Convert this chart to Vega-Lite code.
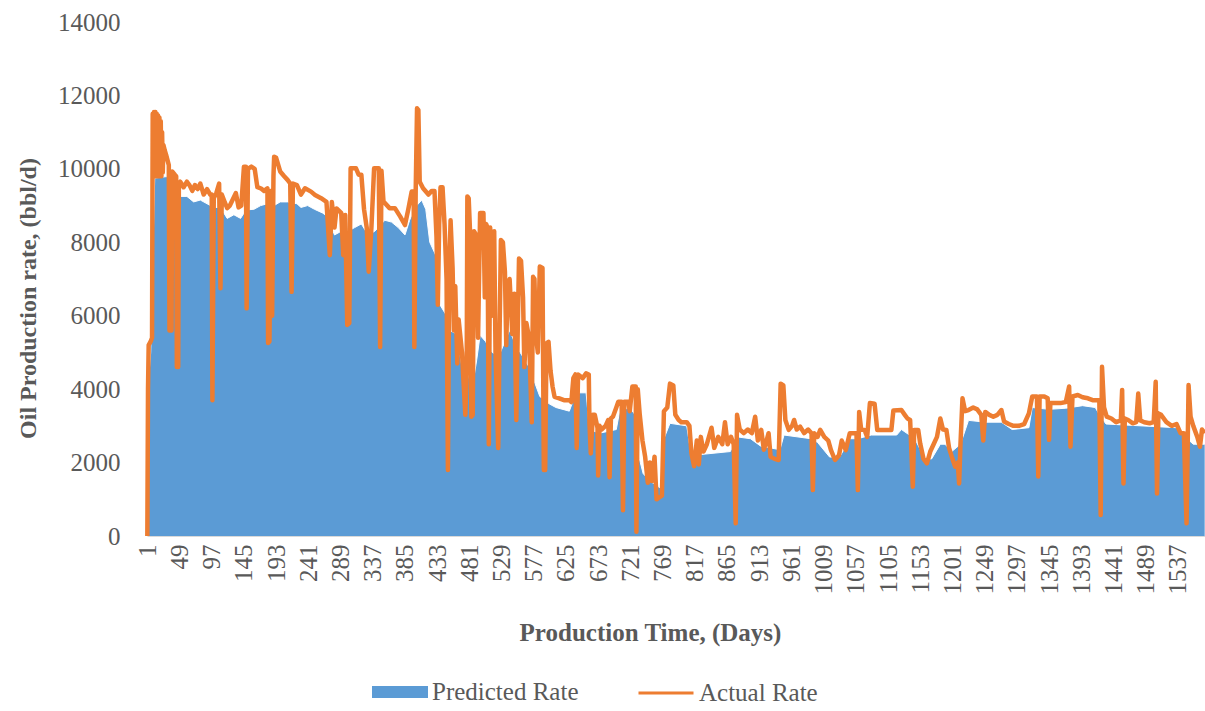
{
"$schema": "https://vega.github.io/schema/vega-lite/v6.json",
"width": 1058, "height": 514,
"autosize": {"type": "none"},
"padding": {"left": 147, "top": 22, "right": 0, "bottom": 175},
"background": "white",
"config": {"view": {"stroke": null}, "font": "Liberation Serif", "axis": {"labelOverlap": false}},
"datasets": {
"actual": [
{"d":1,"v":0},{"d":2,"v":4000},{"d":3,"v":5200},{"d":6,"v":5300},{"d":8,"v":5400},{"d":9,"v":11500},{"d":10,"v":9800},{"d":11,"v":11550},{"d":12,"v":9800},{"d":13,"v":11550},{"d":14,"v":9800},{"d":15,"v":11500},{"d":16,"v":9800},{"d":17,"v":11450},{"d":18,"v":9800},{"d":19,"v":11400},{"d":20,"v":9800},{"d":21,"v":11300},{"d":22,"v":9800},{"d":23,"v":11000},{"d":24,"v":9900},{"d":25,"v":10650},{"d":27,"v":10500},{"d":29,"v":10380},{"d":33,"v":10100},{"d":34,"v":5600},{"d":37,"v":5600},{"d":38,"v":9930},{"d":42,"v":9840},{"d":44,"v":9800},{"d":45,"v":4600},{"d":47,"v":4600},{"d":48,"v":9600},
{"d":50,"v":9650},{"d":55,"v":9500},{"d":60,"v":9650},{"d":64,"v":9550},{"d":68,"v":9400},{"d":72,"v":9560},{"d":76,"v":9450},{"d":80,"v":9600},{"d":85,"v":9300},{"d":90,"v":9450},{"d":95,"v":9290},{"d":97,"v":9300},{"d":98,"v":3700},{"d":100,"v":9200},{"d":104,"v":9350},{"d":108,"v":9600},{"d":110,"v":6750},{"d":112,"v":9300},{"d":116,"v":9110},{"d":120,"v":8930},{"d":124,"v":9000},{"d":133,"v":9340},{"d":137,"v":8950},{"d":141,"v":9000},{"d":145,"v":10060},{"d":148,"v":10060},{"d":149,"v":6200},{"d":151,"v":10000},{"d":156,"v":10060},{"d":161,"v":10000},{"d":165,"v":9500},{"d":170,"v":9470},{"d":175,"v":9400},{"d":180,"v":9470},{"d":181,"v":5260},{"d":183,"v":5300},{"d":185,"v":9400},{"d":187,"v":6000},{"d":189,"v":9800},{"d":190,"v":10330},{"d":193,"v":10300},{"d":199,"v":9930},{"d":205,"v":9800},{"d":210,"v":9700},{"d":214,"v":9600},{"d":216,"v":6650},{"d":218,"v":9600},{"d":224,"v":9560},
{"d":230,"v":9300},{"d":236,"v":9470},{"d":245,"v":9380},{"d":251,"v":9290},{"d":260,"v":9200},{"d":268,"v":9100},{"d":273,"v":7650},{"d":276,"v":9100},{"d":280,"v":8400},{"d":283,"v":8920},{"d":290,"v":8800},{"d":293,"v":7650},{"d":296,"v":8740},{"d":299,"v":5750},{"d":302,"v":5800},{"d":304,"v":10015},{"d":312,"v":10015},{"d":316,"v":9840},{"d":320,"v":9840},{"d":324,"v":8900},{"d":328,"v":8400},{"d":331,"v":7200},{"d":335,"v":8400},{"d":339,"v":10015},{"d":346,"v":10015},{"d":348,"v":5150},{"d":350,"v":9950},{"d":353,"v":9110},{"d":362,"v":8930},{"d":370,"v":8930},{"d":378,"v":8700},{"d":385,"v":8470},{"d":390,"v":8900},{"d":395,"v":9380},{"d":398,"v":9380},{"d":399,"v":5150},{"d":401,"v":9400},{"d":403,"v":11650},{"d":405,"v":11600},{"d":407,"v":9650},{"d":412,"v":9470},{"d":420,"v":9300},{"d":425,"v":9400},{"d":429,"v":9400},{"d":432,"v":8150},{"d":434,"v":6300},{"d":436,"v":8500},{"d":438,"v":9500},{"d":441,"v":9500},{"d":444,"v":8500},{"d":447,"v":7000},{"d":449,"v":1800},
{"d":451,"v":7200},{"d":453,"v":8600},{"d":456,"v":7300},{"d":458,"v":5600},{"d":460,"v":6800},{"d":463,"v":4700},{"d":465,"v":5900},{"d":470,"v":5000},{"d":472,"v":4300},{"d":475,"v":3300},{"d":477,"v":4500},{"d":478,"v":9250},{"d":480,"v":9200},{"d":482,"v":8300},{"d":484,"v":3250},{"d":486,"v":3300},{"d":488,"v":8300},{"d":491,"v":8200},{"d":494,"v":5400},{"d":497,"v":8800},{"d":502,"v":8800},{"d":504,"v":6500},{"d":506,"v":8500},{"d":508,"v":8400},{"d":510,"v":2500},{"d":512,"v":8400},{"d":515,"v":6000},{"d":518,"v":8300},{"d":520,"v":5000},{"d":524,"v":2400},{"d":526,"v":5500},{"d":528,"v":8060},{"d":531,"v":8000},{"d":534,"v":7200},{"d":536,"v":5200},{"d":538,"v":6800},{"d":541,"v":7000},{"d":545,"v":5500},{"d":548,"v":6600},{"d":551,"v":3160},{"d":553,"v":5500},{"d":555,"v":7560},{"d":558,"v":7500},{"d":561,"v":6500},{"d":563,"v":4600},{"d":566,"v":5800},{"d":570,"v":5400},{"d":574,"v":3100},{"d":576,"v":7060},{"d":578,"v":7000},{"d":580,"v":5500},{"d":583,"v":5000},{"d":586,"v":7340},{"d":590,"v":7300},{"d":592,"v":1800},{"d":594,"v":1800},{"d":596,"v":5250},{"d":599,"v":5290},{"d":602,"v":4500},{"d":605,"v":4070},{"d":608,"v":3790},
{"d":615,"v":3750},{"d":622,"v":3700},{"d":630,"v":3700},{"d":633,"v":3650},{"d":636,"v":4300},{"d":639,"v":4400},{"d":641,"v":2400},{"d":643,"v":4400},{"d":650,"v":4300},{"d":655,"v":4430},{"d":659,"v":4400},{"d":660,"v":3070},{"d":662,"v":2250},{"d":665,"v":3300},{"d":668,"v":3300},{"d":672,"v":2950},{"d":673,"v":1650},{"d":675,"v":3000},{"d":678,"v":2900},{"d":684,"v":3000},{"d":688,"v":3160},{"d":690,"v":1600},{"d":692,"v":3200},{"d":695,"v":3250},{"d":700,"v":3500},{"d":703,"v":3660},{"d":708,"v":3660},{"d":710,"v":700},{"d":712,"v":3660},{"d":718,"v":3660},{"d":720,"v":3400},{"d":724,"v":4070},{"d":729,"v":4070},{"d":730,"v":115},{"d":732,"v":4000},{"d":735,"v":3300},{"d":739,"v":2600},{"d":743,"v":2160},{"d":747,"v":1450},{"d":750,"v":2000},{"d":753,"v":1500},{"d":757,"v":2160},{"d":760,"v":1000},{"d":764,"v":1050},{"d":768,"v":1100},{"d":771,"v":3400},{"d":776,"v":3500},{"d":780,"v":4150},{"d":785,"v":4100},{"d":788,"v":3300},{"d":793,"v":3160},{"d":797,"v":3100},{"d":805,"v":3100},{"d":809,"v":3000},
{"d":812,"v":2250},{"d":816,"v":1900},{"d":820,"v":2600},{"d":823,"v":1950},{"d":826,"v":2700},{"d":830,"v":2300},{"d":835,"v":2500},{"d":842,"v":2950},{"d":846,"v":2400},{"d":852,"v":2700},{"d":858,"v":2500},{"d":862,"v":3100},{"d":866,"v":2500},{"d":871,"v":2700},{"d":875,"v":2500},{"d":878,"v":345},{"d":880,"v":3300},{"d":884,"v":2900},{"d":890,"v":2800},{"d":896,"v":2900},{"d":902,"v":2800},{"d":907,"v":3250},{"d":911,"v":2600},{"d":916,"v":2890},{"d":920,"v":2350},{"d":924,"v":2600},{"d":927,"v":2800},{"d":930,"v":2160},{"d":936,"v":2100},{"d":942,"v":2070},{"d":945,"v":4150},{"d":949,"v":4100},{"d":952,"v":3160},{"d":957,"v":2890},{"d":962,"v":3000},{"d":965,"v":3160},{"d":969,"v":2900},{"d":974,"v":2980},{"d":980,"v":2800},{"d":986,"v":2900},{"d":991,"v":2800},{"d":993,"v":1250},{"d":995,"v":2800},{"d":1000,"v":2700},{"d":1004,"v":2890},{"d":1010,"v":2700},{"d":1016,"v":2600},{"d":1020,"v":2340},{"d":1026,"v":2070},{"d":1032,"v":2200},{"d":1036,"v":2600},{"d":1042,"v":2340},{"d":1048,"v":2800},{"d":1058,"v":2800},{"d":1060,"v":1250},{"d":1062,"v":3380},{"d":1065,"v":2900},{"d":1070,"v":2890},{"d":1074,"v":2700},{"d":1078,"v":3620},{"d":1085,"v":3600},{"d":1089,"v":2890},{"d":1100,"v":2890},{"d":1110,"v":2890},{"d":1113,"v":3420},
{"d":1125,"v":3430},{"d":1130,"v":3300},{"d":1134,"v":3200},{"d":1138,"v":3160},{"d":1142,"v":1340},{"d":1144,"v":2890},{"d":1150,"v":2890},{"d":1153,"v":2520},{"d":1158,"v":2100},{"d":1163,"v":1980},{"d":1168,"v":2300},{"d":1173,"v":2500},{"d":1178,"v":2700},{"d":1183,"v":3200},{"d":1187,"v":2900},{"d":1192,"v":2890},{"d":1196,"v":2400},{"d":1200,"v":2160},{"d":1205,"v":1890},{"d":1209,"v":2000},{"d":1211,"v":1430},{"d":1213,"v":2500},{"d":1216,"v":3750},{"d":1220,"v":3400},{"d":1225,"v":3430},{"d":1232,"v":3500},{"d":1238,"v":3450},{"d":1244,"v":3300},{"d":1247,"v":2600},{"d":1250,"v":3380},{"d":1256,"v":3300},{"d":1262,"v":3250},{"d":1268,"v":3300},{"d":1274,"v":3430},{"d":1278,"v":3120},{"d":1285,"v":3050},{"d":1292,"v":3000},{"d":1300,"v":3000},{"d":1308,"v":3050},{"d":1315,"v":3340},{"d":1320,"v":3800},{"d":1327,"v":3800},{"d":1329,"v":1620},{"d":1331,"v":3800},{"d":1338,"v":3800},{"d":1343,"v":3750},{"d":1345,"v":2620},{"d":1347,"v":3620},{"d":1355,"v":3620},{"d":1362,"v":3620},{"d":1370,"v":3650},{"d":1375,"v":4070},{"d":1377,"v":2430},{"d":1380,"v":3800},{"d":1388,"v":3840},{"d":1395,"v":3780},{"d":1403,"v":3750},{"d":1410,"v":3700},{"d":1420,"v":3700},{"d":1422,"v":570},{"d":1424,"v":4610},{"d":1427,"v":3500},
{"d":1431,"v":3250},{"d":1438,"v":3200},{"d":1445,"v":3100},{"d":1452,"v":3150},{"d":1454,"v":3980},{"d":1456,"v":1430},{"d":1458,"v":3200},{"d":1463,"v":3160},{"d":1470,"v":3070},{"d":1475,"v":3100},{"d":1478,"v":3880},{"d":1481,"v":3150},{"d":1487,"v":3100},{"d":1495,"v":3070},{"d":1501,"v":3100},{"d":1504,"v":4200},{"d":1506,"v":1160},{"d":1508,"v":3340},{"d":1512,"v":3300},{"d":1520,"v":3100},{"d":1528,"v":3000},{"d":1535,"v":3050},{"d":1541,"v":2800},{"d":1546,"v":2800},{"d":1550,"v":345},{"d":1553,"v":4110},{"d":1556,"v":3250},{"d":1560,"v":3000},{"d":1566,"v":2700},{"d":1570,"v":2430},{"d":1573,"v":2900},{"d":1577,"v":2800}
],
"predicted": [
{"d":1,"v":0},{"d":3,"v":4300},{"d":6,"v":5000},{"d":9,"v":7500},{"d":12,"v":9750},{"d":30,"v":9790},{"d":33,"v":9700},{"d":38,"v":9500},{"d":44,"v":9350},{"d":48,"v":9250},{"d":60,"v":9250},{"d":70,"v":9100},{"d":80,"v":9150},{"d":90,"v":9050},{"d":100,"v":8950},{"d":110,"v":8950},{"d":120,"v":8650},{"d":130,"v":8750},{"d":140,"v":8650},{"d":148,"v":8880},{"d":160,"v":8900},{"d":170,"v":9000},{"d":180,"v":9050},{"d":190,"v":9000},{"d":199,"v":9100},{"d":210,"v":9100},{"d":224,"v":9050},{"d":230,"v":8950},{"d":240,"v":9000},{"d":250,"v":8900},{"d":262,"v":8800},{"d":270,"v":8700},{"d":280,"v":8200},{"d":290,"v":8300},{"d":300,"v":8300},{"d":310,"v":8400},{"d":320,"v":8500},{"d":330,"v":8200},{"d":340,"v":8300},{"d":355,"v":8600},{"d":365,"v":8550},{"d":375,"v":8400},{"d":385,"v":8200},{"d":392,"v":8600},{"d":400,"v":8950},{"d":410,"v":9150},{"d":416,"v":8900},{"d":422,"v":8000},{"d":432,"v":7600},{"d":437,"v":6300},{"d":447,"v":6000},{"d":452,"v":5600},{"d":462,"v":5500},{"d":470,"v":4600},{"d":478,"v":4500},{"d":485,"v":4000},{"d":492,"v":4800},{"d":497,"v":5470},{"d":505,"v":5300},{"d":515,"v":5000},{"d":525,"v":4900},{"d":541,"v":5600},{"d":550,"v":5200},{"d":560,"v":4900},{"d":570,"v":4600},{"d":586,"v":3800},{"d":600,"v":3600},{"d":610,"v":3500},{"d":630,"v":3400},{"d":640,"v":3900},{"d":655,"v":3900},{"d":660,"v":2900},{"d":675,"v":2800},{"d":700,"v":2900},{"d":705,"v":3400},{"d":720,"v":3500},{"d":728,"v":3300},{"d":733,"v":2200},{"d":740,"v":1700},{"d":750,"v":1500},{"d":766,"v":1300},{"d":770,"v":2600},{"d":780,"v":3070},{"d":805,"v":3000},{"d":810,"v":2400},{"d":815,"v":2200},{"d":870,"v":2300},{"d":880,"v":2700},{"d":900,"v":2650},{"d":915,"v":2450},{"d":944,"v":2350},{"d":950,"v":2750},{"d":990,"v":2650},{"d":1000,"v":2550},{"d":1018,"v":2150},{"d":1033,"v":2150},{"d":1048,"v":2650},{"d":1060,"v":2650},{"d":1080,"v":2750},{"d":1118,"v":2750},{"d":1125,"v":2900},{"d":1145,"v":2650},{"d":1160,"v":2100},{"d":1170,"v":2100},{"d":1183,"v":2500},{"d":1190,"v":2500},{"d":1200,"v":2300},{"d":1213,"v":2500},{"d":1225,"v":3150},{"d":1250,"v":3100},{"d":1274,"v":3100},{"d":1290,"v":2900},{"d":1315,"v":2950},{"d":1320,"v":3500},{"d":1345,"v":3450},{"d":1370,"v":3480},{"d":1395,"v":3550},{"d":1414,"v":3500},{"d":1420,"v":3300},{"d":1430,"v":3050},{"d":1535,"v":2950},{"d":1545,"v":2750},{"d":1560,"v":2500},{"d":1577,"v":2500}
]
},
"encoding": {
"x": {"field": "d", "type": "quantitative", "scale": {"domain": [0.5, 1577.5], "nice": false, "zero": false},
"axis": {"values": [1,49,97,145,193,241,289,337,385,433,481,529,577,625,673,721,769,817,865,913,961,1009,1057,1105,1153,1201,1249,1297,1345,1393,1441,1489,1537],
"format": "d", "labelAngle": -90, "labelFont": "Liberation Serif", "labelFontSize": 25, "labelColor": "#595959", "labelPadding": 8, "labelFlush": false, "labelOverlap": false, "labelBound": false,
"ticks": false, "tickSize": 0, "grid": false, "domain": true, "domainColor": "#d9d9d9", "domainWidth": 1,
"title": "Production Time, (Days)", "titleFont": "Liberation Serif", "titleFontSize": 25, "titleFontWeight": "bold", "titleColor": "#595959",
"titleX": 503, "titleY": 96, "titleAlign": "center", "titleBaseline": "middle"}},
"y": {"field": "v", "type": "quantitative", "scale": {"domain": [0, 14000], "nice": false},
"axis": {"values": [0,2000,4000,6000,8000,10000,12000,14000], "format": "d", "labelFont": "Liberation Serif", "labelFontSize": 25, "labelColor": "#595959", "labelPadding": 27,
"ticks": false, "tickSize": 0, "grid": false, "domain": false,
"title": "Oil Production rate, (bbl/d)", "titleFont": "Liberation Serif", "titleFontSize": 24, "titleFontWeight": "bold", "titleColor": "#595959",
"titleX": -119, "titleY": 276, "titleAngle": -90, "titleAlign": "center", "titleBaseline": "middle"}}
},
"layer": [
{
"data": {"name": "predicted"},
"mark": {"type": "area", "interpolate": "linear", "opacity": 1},
"encoding": {
"fill": {"datum": "Predicted Rate", "type": "nominal", "scale": {"range": ["#5B9BD5"]},
"legend": {"orient": "none", "legendX": 225, "legendY": 642, "title": null, "symbolType": "M-1,-0.21H1V0.21H-1Z", "symbolSize": 3136, "symbolStrokeWidth": 0, "labelFont": "Liberation Serif", "labelFontSize": 25, "labelColor": "#595959", "labelOffset": 4}}
}
},
{
"data": {"name": "predicted"},
"mark": {"type": "line", "color": "white", "strokeWidth": 1},
"encoding": {}
},
{
"data": {"name": "actual"},
"mark": {"type": "line", "strokeWidth": 4.5, "strokeJoin": "round", "strokeCap": "butt"},
"encoding": {
"stroke": {"datum": "Actual Rate", "type": "nominal", "scale": {"range": ["#ED7D31"]},
"legend": {"orient": "none", "legendX": 490, "legendY": 642, "title": null, "symbolType": "stroke", "symbolSize": 3025, "symbolStrokeWidth": 3, "labelFont": "Liberation Serif", "labelFontSize": 25, "labelColor": "#595959", "labelOffset": 4}}
}
}
]
}
